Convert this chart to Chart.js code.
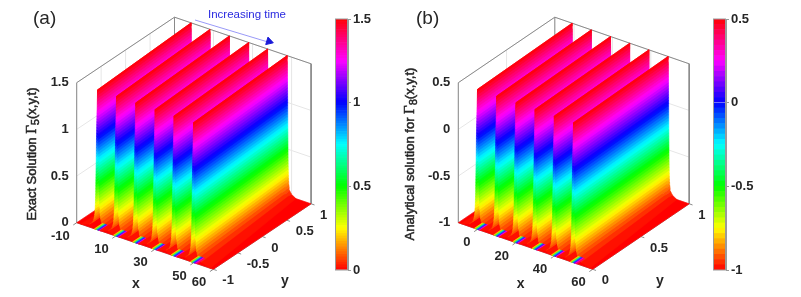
<!DOCTYPE html>
<html>
<head>
<meta charset="utf-8">
<style>
	body { margin: 0; background: #fff; }
	canvas { position: absolute; filter: blur(0.45px); }
</style>
</head>
<body>
<canvas id="plot" width="801" height="297" style="left:0;top:0"></canvas>
<canvas id="barA" width="60" height="271" style="left:335px;top:9px"></canvas>
<canvas id="barB" width="60" height="271" style="left:713px;top:9px"></canvas>
<script src="https://cdn.jsdelivr.net/npm/chart.js@4"></script>
<script>
// values
const ridgesA = [0.7, 10.4, 20.3, 30.2, 39.9, 49.9];
const ridgesB = [0, 10, 20, 30, 40, 50];

const xTicksA = [-10, 10, 30, 50, 60];
const yTicksA = [-1, -0.5, 0, 0.5, 1];
const zTicksA = [0, 0.5, 1, 1.5];

const xTicksB = [0, 20, 40, 60];
const yTicksB = [0, 0.5, 1];
const zTicksB = [-1, -0.5, 0, 0.5];

// distance from the crest (x units), from the foot of the ridge up to its top
const flankOffsets = [
	4.5, 2.2, 1.35, 1.05, 0.9, 0.8, 0.72, 0.67, 0.63, 0.6,
	0.57, 0.54, 0.52, 0.5, 0.49, 0.48, 0.47, 0.46, 0.45, 0.44,
	0.43, 0.42, 0.41, 0.39, 0.37, 0.36, 0.35, 0.34, 0.33, 0.32,
	0.31, 0.3, 0.29, 0.28, 0.27, 0.26, 0.25, 0.23, 0.21, 0.19,
	0.17, 0.15, 0.13, 0.11, 0.09, 0.07, 0.05, 0.03, 0
];
// the ridges are wider at the near end than at the far end
const nearWiden = 1.9;

// little rainbow patch at the foot of each ridge
const stripeColours = ["#ffd000", "#80ff00", "#00e0c0", "#0060ff", "#6000ff", "#ff00e0", "#ff0060"];
const stripeOffsets = [-1.6, -1.1, -0.6, -0.1, 0.4, 0.9, 1.4, 1.9];

const hsvStops = [[255, 0, 0], [255, 255, 0], [0, 255, 0], [0, 255, 255], [0, 0, 255], [255, 0, 255], [255, 0, 0]];

const panels = [
	{
		xMin: -10, xMax: 60, yMin: -1, yMax: 1, zMin: 0, zMax: 1.5,
		ridges: ridgesA, drift: -2.2,
		xTicks: xTicksA, yTicks: yTicksA, zTicks: zTicksA,
		origin: [76.7, 222.7], xVec: [136.6, 46.6], yVec: [97.8, -65.5], zVec: [0, -140],
		tag: "(a)", tagPos: [33, 19],
		xTitle: [136, 284], yTitle: [285, 281],
		zTitleX: 32, zTitleY: 154,
		zTitle: ["Exact Solution ", "5"]
	},
	{
		xMin: -10, xMax: 60, yMin: 0, yMax: 1, zMin: -1, zMax: 0.5,
		ridges: ridgesB, drift: -1,
		xTicks: xTicksB, yTicks: yTicksB, zTicks: zTicksB,
		origin: [458.3, 222.7], xVec: [134.4, 46.6], yVec: [96.5, -65.5], zVec: [0, -140],
		tag: "(b)", tagPos: [416, 19],
		xTitle: [520.7, 284], yTitle: [660, 281],
		zTitleX: 410, zTitleY: 154,
		zTitle: ["Analytical solution for ", "8"]
	}
];

function hsvColour(f) {
	let p = Math.min(f, 0.9999) * (hsvStops.length - 1);
	let i = Math.floor(p);
	let t = p - i;
	let c = hsvStops[i].map((v, k) => Math.round(v + (hsvStops[i + 1][k] - v) * t));
	return `rgb(${c[0]},${c[1]},${c[2]})`;
}

// 3D data point to plot position
function project(p, x, y, z) {
	let a = (x - p.xMin) / (p.xMax - p.xMin);
	let b = (y - p.yMin) / (p.yMax - p.yMin);
	let c = (z - p.zMin) / (p.zMax - p.zMin);
	return {
		x: p.origin[0] + a * p.xVec[0] + b * p.yVec[0] + c * p.zVec[0],
		y: p.origin[1] + a * p.xVec[1] + b * p.yVec[1] + c * p.zVec[1]
	};
}

function lineSet(points, colour, width) {
	return { data: points, showLine: true, borderColor: colour, borderWidth: width, pointRadius: 0, fill: false };
}

function shapeSet(points, colour) {
	return {
		data: points.concat([points[0]]), showLine: true, fill: "shape",
		backgroundColor: colour, borderColor: colour, borderWidth: 0.6, pointRadius: 0
	};
}

function buildPanel(p) {
	let sets = [];
	const grid = "#e6e6e6";
	const edge = "#8a8a8a";

	// wall grid
	p.zTicks.forEach(z => {
		sets.push(lineSet([project(p, p.xMin, p.yMin, z), project(p, p.xMin, p.yMax, z), project(p, p.xMax, p.yMax, z)], grid, 1));
	});
	p.yTicks.forEach(y => {
		sets.push(lineSet([project(p, p.xMin, y, p.zMin), project(p, p.xMin, y, p.zMax)], grid, 1));
	});
	p.xTicks.forEach(x => {
		sets.push(lineSet([project(p, x, p.yMax, p.zMin), project(p, x, p.yMax, p.zMax)], grid, 1));
	});

	// box
	sets.push(lineSet([
		project(p, p.xMin, p.yMin, p.zMin), project(p, p.xMin, p.yMin, p.zMax),
		project(p, p.xMin, p.yMax, p.zMax), project(p, p.xMax, p.yMax, p.zMax),
		project(p, p.xMax, p.yMax, p.zMin)
	], edge, 1));
	sets.push(lineSet([project(p, p.xMin, p.yMax, p.zMin), project(p, p.xMin, p.yMax, p.zMax)], edge, 1));
	sets.push(lineSet([
		project(p, p.xMin, p.yMin, p.zMin), project(p, p.xMax, p.yMin, p.zMin), project(p, p.xMax, p.yMax, p.zMin)
	], edge, 1));

	// axis ticks
	let yStep = (p.yMax - p.yMin) * 0.035;
	let xStep = (p.xMax - p.xMin) * 0.025;
	p.xTicks.forEach(x => {
		sets.push(lineSet([project(p, x, p.yMin, p.zMin), project(p, x, p.yMin - yStep, p.zMin)], edge, 1));
	});
	p.yTicks.forEach(y => {
		sets.push(lineSet([project(p, p.xMax, y, p.zMin), project(p, p.xMax + xStep, y, p.zMin)], edge, 1));
	});

	// floor
	sets.push(shapeSet([
		project(p, p.xMin, p.yMin, p.zMin), project(p, p.xMax, p.yMin, p.zMin),
		project(p, p.xMax, p.yMax, p.zMin), project(p, p.xMin, p.yMax, p.zMin)
	], "#ff0000"));

	// ridges, far one first
	let n = flankOffsets.length - 1;
	let zAt = i => p.zMin + (p.zMax - p.zMin) * i / n;
	let band = (c, d0, z0, d1, z1, colour) => shapeSet([
		project(p, c + d0 * nearWiden, p.yMin, z0), project(p, c + d1 * nearWiden, p.yMin, z1),
		project(p, c + p.drift + d1, p.yMax, z1), project(p, c + p.drift + d0, p.yMax, z0)
	], colour);

	p.ridges.forEach(c => {
		for (let i = 0; i < n; i++) {
			sets.push(band(c, -flankOffsets[i], zAt(i), -flankOffsets[i + 1], zAt(i + 1), hsvColour((i + 0.5) / n)));
		}
		for (let i = n - 1; i >= 0; i--) {
			sets.push(band(c, flankOffsets[i + 1], zAt(i + 1), flankOffsets[i], zAt(i), hsvColour((i + 0.5) / n)));
		}
		let yEnd = p.yMin + (p.yMax - p.yMin) * 0.08;
		stripeColours.forEach((colour, i) => {
			sets.push(shapeSet([
				project(p, c + stripeOffsets[i], p.yMin, p.zMin), project(p, c + stripeOffsets[i + 1], p.yMin, p.zMin),
				project(p, c + stripeOffsets[i + 1], yEnd, p.zMin), project(p, c + stripeOffsets[i], yEnd, p.zMin)
			], colour));
		});
	});
	return sets;
}

let datasets = [];
panels.forEach(p => { datasets = datasets.concat(buildPanel(p)); });

// arrow over panel (a)
datasets.push(lineSet([{ x: 195, y: 20 }, { x: 268, y: 42 }], "#7f7ff5", 0.8));
datasets.push({
	data: [{ x: 269, y: 41.5 }], pointStyle: "triangle", pointRadius: 4.5, rotation: 107,
	backgroundColor: "#1a1ad8", borderColor: "#1a1ad8", showLine: false
});

// chart.js paints dataset 0 last
datasets.reverse();

const textDark = "#262626";
const tickFont = 'bold 13px "Liberation Sans"';
const titleFont = '13px "Liberation Sans"';

function put(ctx, text, x, y, align, font, colour) {
	ctx.font = font;
	ctx.textAlign = align;
	ctx.textBaseline = "middle";
	ctx.fillStyle = colour || textDark;
	ctx.fillText(text, x, y);
}

function drawZTitle(ctx, p) {
	let parts = [
		[p.zTitle[0], titleFont, 0],
		["\u0393", '15px "Liberation Serif"', 0],
		[p.zTitle[1], '11px "Liberation Sans"', 4],
		["(x,y,t)", titleFont, 0]
	];
	let total = 0;
	parts.forEach(t => { ctx.font = t[1]; total += ctx.measureText(t[0]).width; });
	ctx.save();
	ctx.translate(p.zTitleX, p.zTitleY);
	ctx.rotate(-Math.PI / 2);
	let at = -total / 2;
	ctx.strokeStyle = textDark;
	ctx.lineWidth = 0.5;
	parts.forEach(t => {
		put(ctx, t[0], at, t[2], "left", t[1]);
		ctx.strokeText(t[0], at, t[2]);
		at += ctx.measureText(t[0]).width;
	});
	ctx.restore();
}

const labelPlugin = {
	id: "labels",
	afterDraw(chart) {
		const ctx = chart.ctx;
		ctx.save();
		panels.forEach(p => {
			p.xTicks.forEach(x => {
				let q = project(p, x, p.yMin, p.zMin);
				put(ctx, String(x), q.x - 7, q.y + 13.5, "right", tickFont);
			});
			p.yTicks.forEach(y => {
				let q = project(p, p.xMax, y, p.zMin);
				put(ctx, String(y), q.x + 9, q.y + 11.5, "left", tickFont);
			});
			p.zTicks.forEach(z => {
				let q = project(p, p.xMin, p.yMin, z);
				put(ctx, String(z), q.x - 8, q.y, "right", tickFont);
			});
			put(ctx, "x", p.xTitle[0], p.xTitle[1], "center", 'bold 14px "Liberation Sans"');
			put(ctx, "y", p.yTitle[0], p.yTitle[1], "center", 'bold 14px "Liberation Sans"');
			put(ctx, p.tag, p.tagPos[0], p.tagPos[1], "left", '19px "Liberation Sans"');
			drawZTitle(ctx, p);
		});
		put(ctx, "Increasing time", 208, 15, "left", '11.5px "Liberation Sans"', "#2a2ae0");
		ctx.restore();
	}
};

new Chart(document.getElementById("plot"), {
	type: "scatter",
	data: { datasets: datasets },
	plugins: [labelPlugin],
	options: {
		responsive: false,
		animation: false,
		layout: { padding: 0, autoPadding: false },
		plugins: { legend: { display: false }, tooltip: { enabled: false } },
		scales: {
			x: { type: "linear", min: 0, max: 801, display: false },
			y: { type: "linear", min: 0, max: 297, reverse: true, display: false }
		}
	}
});

// colorbars
const barFrame = {
	id: "barFrame",
	afterDraw(chart) {
		const a = chart.chartArea;
		chart.ctx.save();
		chart.ctx.strokeStyle = "#9a9a9a";
		chart.ctx.lineWidth = 1;
		chart.ctx.strokeRect(a.left + 0.5, a.top, a.width - 1, a.height);
		chart.ctx.restore();
	}
};

function colourBar(id, p, steps) {
	let sets = [];
	let range = p.zMax - p.zMin;
	for (let i = 0; i < steps; i++) {
		sets.push({
			data: [[p.zMin + range * i / steps, p.zMin + range * (i + 1) / steps]],
			backgroundColor: hsvColour((i + 0.5) / steps),
			barPercentage: 1, categoryPercentage: 1, grouped: false
		});
	}
	new Chart(document.getElementById(id), {
		type: "bar",
		data: { labels: [""], datasets: sets },
		plugins: [barFrame],
		options: {
			responsive: false,
			animation: false,
			layout: { padding: { top: 10, bottom: 10, left: 0, right: 0 } },
			plugins: { legend: { display: false }, tooltip: { enabled: false } },
			scales: {
				x: { display: false },
				y: {
					position: "right", min: p.zMin, max: p.zMax,
					afterFit(s) { s.width = 47; },
					afterBuildTicks(s) { s.ticks = p.zTicks.map(v => ({ value: v })); },
					grid: { drawOnChartArea: false, tickLength: 3, color: "#9a9a9a" },
					border: { color: "#9a9a9a" },
					ticks: {
						padding: 2,
						color: textDark,
						font: { family: "Liberation Sans", size: 13, weight: "bold" },
						callback: v => String(v)
					}
				}
			}
		}
	});
}

colourBar("barA", panels[0], 96);
colourBar("barB", panels[1], 48);
</script>
</body>
</html>
